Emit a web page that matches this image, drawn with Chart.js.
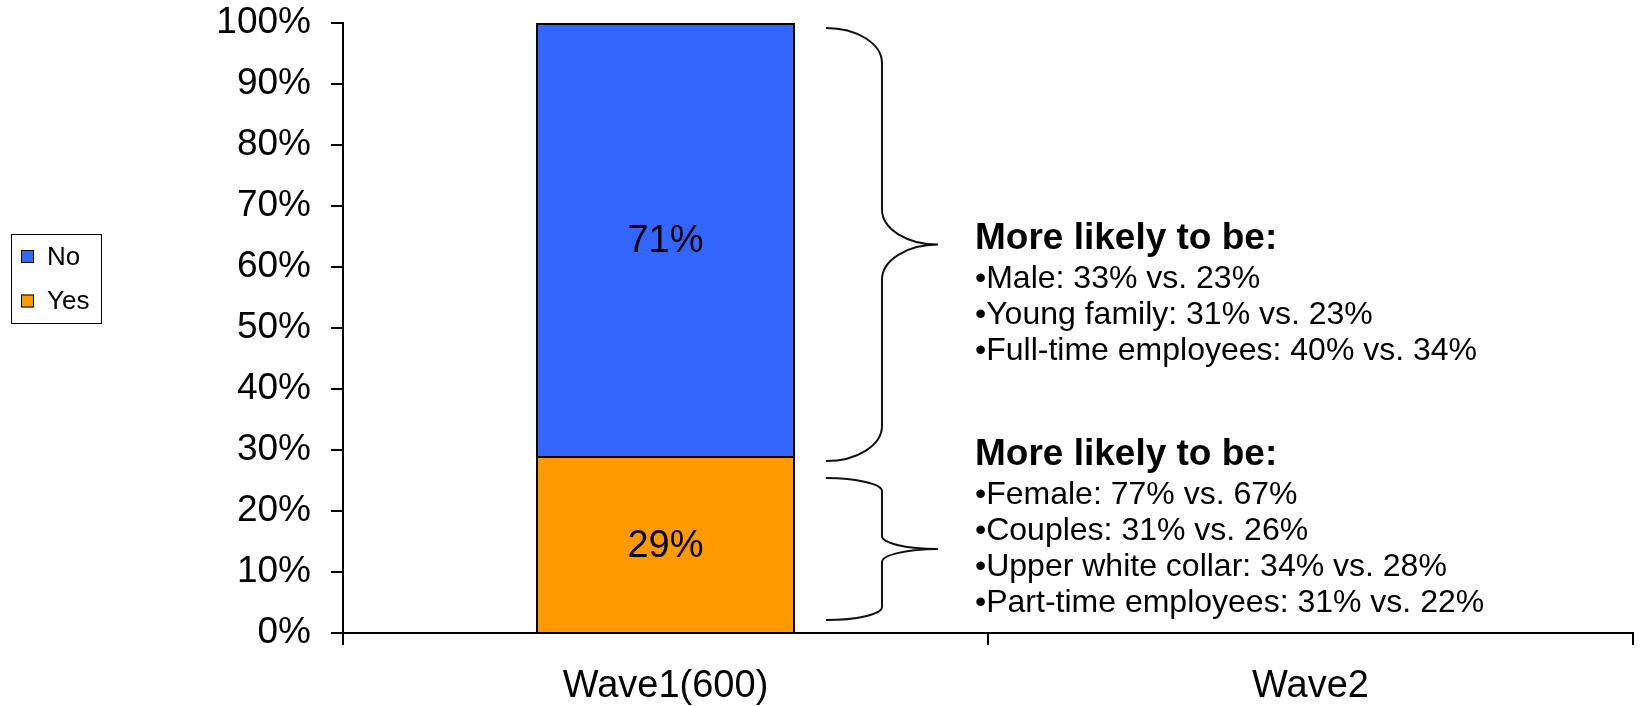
<!DOCTYPE html>
<html>
<head>
<meta charset="utf-8">
<script src="https://cdn.jsdelivr.net/npm/chart.js@4.4.1/dist/chart.umd.min.js"></script>
<style>
  html, body { margin: 0; padding: 0; background: #fff; }
  #wrap { width: 1640px; height: 706px; position: relative; }
  canvas { display: block; }
</style>
</head>
<body>
<div id="wrap"><canvas id="chart" width="1640" height="706"></canvas></div>
<script>
// Survey waves and answer shares (percent)
const categories = ['Wave1(600)', 'Wave2'];
const yesValues = [29, null];
const noValues = [71, null];
const yesColor = '#FF9900';
const noColor = '#3366FF';

// Profile notes next to each segment
const noteHeading = 'More likely to be:';
const noNotes = ['•Male: 33% vs. 23%', '•Young family: 31% vs. 23%', '•Full-time employees: 40% vs. 34%'];
const yesNotes = ['•Female: 77% vs. 67%', '•Couples: 31% vs. 26%', '•Upper white collar: 34% vs. 28%', '•Part-time employees: 31% vs. 22%'];

const FONT = '"Liberation Sans", Arial, Helvetica, sans-serif';

// Percent labels centred in each bar segment
const segmentLabels = {
  id: 'segmentLabels',
  afterDatasetsDraw(chart) {
    const ctx = chart.ctx;
    ctx.save();
    ctx.font = '38px ' + FONT;
    ctx.fillStyle = '#000';
    ctx.textAlign = 'center';
    ctx.textBaseline = 'middle';
    chart.data.datasets.forEach((ds, di) => {
      const meta = chart.getDatasetMeta(di);
      meta.data.forEach((bar, i) => {
        const v = ds.data[i];
        if (v === null || v === undefined) return;
        const p = bar.getProps(['x', 'y', 'base'], true);
        ctx.fillText(v + '%', p.x, (p.y + p.base) / 2 + 2);
      });
    });
    ctx.restore();
  }
};

// Curly brace: ends at xs, spine at xv, tip at xt; r = curve height
function drawBrace(ctx, xs, xv, xt, y1, y2, r) {
  const k = 0.552;
  const w = xv - xs, w2 = xt - xv;
  const ym = (y1 + y2) / 2;
  ctx.beginPath();
  ctx.moveTo(xs, y1);
  ctx.bezierCurveTo(xs + k * w, y1, xv, y1 + r * (1 - k), xv, y1 + r);
  ctx.lineTo(xv, ym - r);
  ctx.bezierCurveTo(xv, ym - r + k * r, xt - k * w2, ym, xt, ym);
  ctx.bezierCurveTo(xt - k * w2, ym, xv, ym + r - k * r, xv, ym + r);
  ctx.lineTo(xv, y2 - r);
  ctx.bezierCurveTo(xv, y2 - r * (1 - k), xs + k * w, y2, xs, y2);
  ctx.stroke();
}

const notesPlugin = {
  id: 'notes',
  afterDraw(chart) {
    const ctx = chart.ctx;
    const y = chart.scales.y;
    const bar = chart.getDatasetMeta(0).data[0].getProps(['x', 'width'], true);
    const xs = bar.x + bar.width / 2 + 31;
    const xv = xs + 56;
    const xt = xs + 112;
    const yesTop = yesValues[0];
    ctx.save();
    ctx.strokeStyle = '#111';
    ctx.lineWidth = 2;
    drawBrace(ctx, xs, xv, xt, y.getPixelForValue(100) + 5, y.getPixelForValue(yesTop) + 5, 35);
    drawBrace(ctx, xs, xv, xt, y.getPixelForValue(yesTop) + 22, y.getPixelForValue(0) - 13, 13);

    const tx = 975;
    const step = 36.3;
    ctx.fillStyle = '#000';
    ctx.textAlign = 'left';
    ctx.textBaseline = 'alphabetic';
    const block = (baseY, lines) => {
      ctx.font = 'bold 37px ' + FONT;
      ctx.fillText(noteHeading, tx, baseY);
      ctx.font = '32px ' + FONT;
      lines.forEach((t, i) => ctx.fillText(t, tx, baseY + 38.5 + i * step));
    };
    block(249, noNotes);
    block(465, yesNotes);
    ctx.restore();
  }
};

// Boxed legend on the left, top series first
const boxLegend = {
  id: 'boxLegend',
  afterDraw(chart) {
    const ctx = chart.ctx;
    ctx.save();
    ctx.strokeStyle = '#000';
    ctx.lineWidth = 1;
    ctx.strokeRect(11.5, 234.5, 90, 89);
    const items = chart.data.datasets.slice().reverse();
    ctx.font = '26px ' + FONT;
    ctx.textAlign = 'left';
    ctx.textBaseline = 'middle';
    items.forEach((ds, i) => {
      const cy = 256.5 + i * 44.5;
      ctx.fillStyle = ds.backgroundColor;
      ctx.fillRect(21, cy - 6.5, 13, 13);
      ctx.strokeRect(21.5, cy - 6, 12, 12);
      ctx.fillStyle = '#000';
      ctx.fillText(ds.label, 47, cy + 1);
    });
    ctx.restore();
  }
};

new Chart(document.getElementById('chart'), {
  type: 'bar',
  data: {
    labels: categories,
    datasets: [
      { label: 'Yes', data: yesValues, backgroundColor: yesColor, borderColor: '#000', borderWidth: 2, borderSkipped: 'start' },
      { label: 'No', data: noValues, backgroundColor: noColor, borderColor: '#000', borderWidth: 2, borderSkipped: 'start' }
    ]
  },
  options: {
    responsive: false,
    animation: false,
    devicePixelRatio: 1,
    layout: { padding: { top: 23, right: 7, bottom: 0, left: 0 } },
    datasets: { bar: { categoryPercentage: 1, barPercentage: 0.4015 } },
    plugins: { legend: { display: false }, tooltip: { enabled: false } },
    scales: {
      x: {
        stacked: true,
        afterFit(scale) { scale.height = 73; scale.paddingLeft = 0; scale.paddingRight = 0; },
        border: { display: true, color: '#000', width: 2 },
        grid: { offset: true, drawOnChartArea: false, drawTicks: true, tickLength: 12, color: '#000', lineWidth: 2 },
        ticks: { color: '#000', padding: 19, font: { family: FONT, size: 38 }, maxRotation: 0 }
      },
      y: {
        stacked: true,
        min: 0,
        max: 100,
        afterFit(scale) { scale.width = 343; scale.paddingTop = 0; scale.paddingBottom = 0; },
        border: { display: true, color: '#000', width: 2 },
        grid: { drawOnChartArea: false, drawTicks: true, tickLength: 12, color: '#000', lineWidth: 2 },
        ticks: { stepSize: 10, color: '#000', padding: 20, font: { family: FONT, size: 37 }, callback: v => v + '%' }
      }
    }
  },
  plugins: [segmentLabels, notesPlugin, boxLegend]
});
</script>
</body>
</html>
